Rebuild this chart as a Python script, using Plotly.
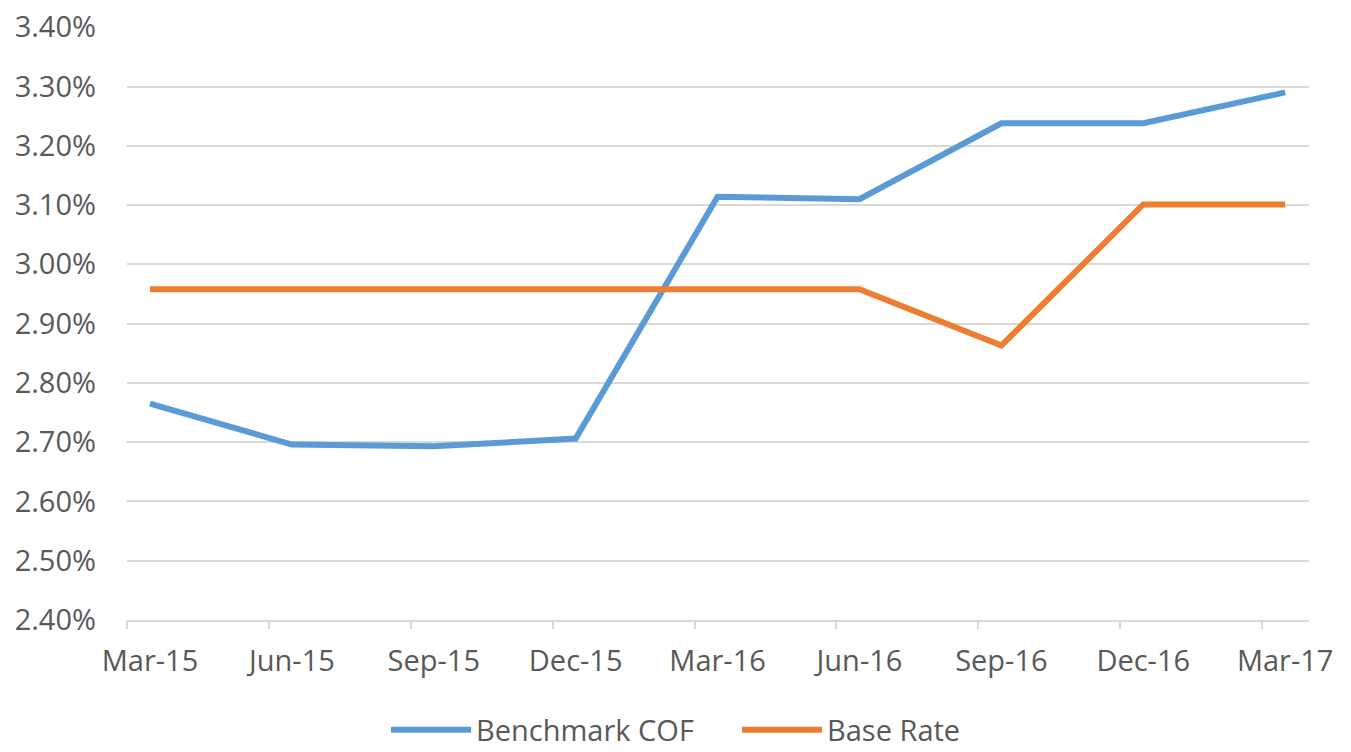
import plotly.graph_objects as go

categories = ["Mar-15", "Jun-15", "Sep-15", "Dec-15", "Mar-16", "Jun-16", "Sep-16", "Dec-16", "Mar-17"]
benchmark_cof = [2.765, 2.696, 2.693, 2.706, 3.114, 3.110, 3.238, 3.238, 3.290]
base_rate = [2.958, 2.958, 2.958, 2.958, 2.958, 2.958, 2.863, 3.101, 3.101]
y_ticks = [2.40, 2.50, 2.60, 2.70, 2.80, 2.90, 3.00, 3.10, 3.20, 3.30, 3.40]

x_pos = list(range(len(categories)))
tick_offset = 0.162
x_range = [-tick_offset, len(categories) - 1 + 0.168]
tick_marks = [i - tick_offset for i in x_pos]

FONT = "Open Sans"
FSIZE = 29
GREY = "#595959"
GRID = "#d9d9d9"

fig = go.Figure()
fig.add_trace(go.Scatter(x=x_pos, y=benchmark_cof, mode="lines", name="Benchmark COF",
                         line=dict(color="#5B9BD5", width=6)))
fig.add_trace(go.Scatter(x=x_pos, y=base_rate, mode="lines", name="Base Rate",
                         line=dict(color="#ED7D31", width=6)))
# invisible trace to activate overlay axis for tick marks
fig.add_trace(go.Scatter(x=[x_range[0]], y=[y_ticks[0]], xaxis="x2", mode="none",
                         showlegend=False, hoverinfo="skip"))

fig.update_layout(
    width=1351, height=752,
    margin=dict(l=127, r=42, t=27, b=132),
    paper_bgcolor="white", plot_bgcolor="white",
    font=dict(family=FONT, size=FSIZE, color=GREY),
    xaxis=dict(range=x_range, tickvals=x_pos, ticktext=categories, ticks="",
               showgrid=False, zeroline=False, showline=True, linecolor=GRID, linewidth=1.5,
               ticklabelstandoff=14, automargin=False,
               tickfont=dict(family=FONT, size=FSIZE, color=GREY)),
    xaxis2=dict(range=x_range, overlaying="x", anchor="y", side="bottom",
                tickvals=tick_marks, ticks="outside", ticklen=8, tickwidth=1.5, tickcolor=GRID,
                showticklabels=False, showgrid=False, zeroline=False, showline=False,
                automargin=False),
    yaxis=dict(range=[y_ticks[0], y_ticks[-1] + 0.0004], tickvals=y_ticks,
               ticktext=[f"{v:.2f}%" for v in y_ticks], showgrid=True, gridcolor=GRID,
               gridwidth=1.5, zeroline=False, showline=False, ticks="",
               ticklabelstandoff=30, automargin=False, ticklabeloverflow="allow",
               tickfont=dict(family=FONT, size=FSIZE, color=GREY)),
    legend=dict(orientation="h", x=386 / 1351, xanchor="left", xref="container",
                y=0.0293, yanchor="middle", yref="container",
                font=dict(family=FONT, size=FSIZE, color=GREY), itemwidth=80,
                entrywidth=256, entrywidthmode="pixels", bgcolor="rgba(0,0,0,0)"),
    showlegend=True,
)

# remove the browser's default 8px body margin so the figure fills the window exactly
fig.write_html("out.html", config={"displayModeBar": False},
               post_script="document.body.style.margin='0';document.body.style.overflow='hidden';")
